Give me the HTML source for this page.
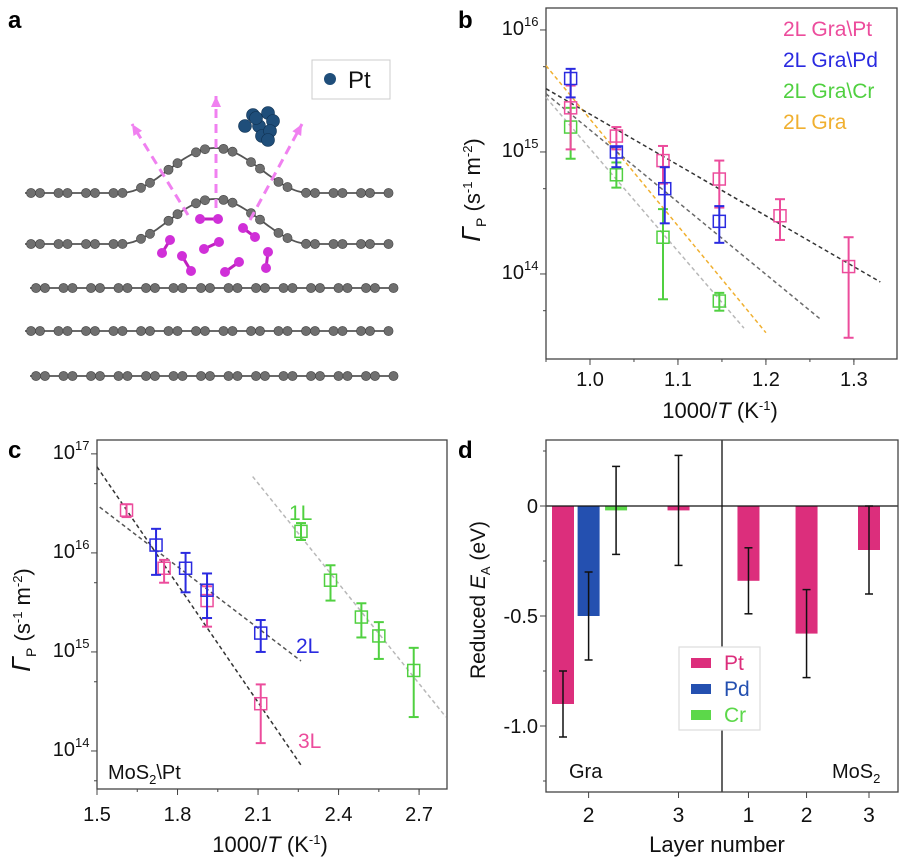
<!DOCTYPE html>
<html><head><meta charset="utf-8"><style>
body{margin:0;background:#fff;width:904px;height:860px;overflow:hidden;font-family:"Liberation Sans",Arial,sans-serif}
svg text{font-family:"Liberation Sans",Arial,sans-serif}
</style></head><body>
<svg id="fig" width="904" height="860" viewBox="0 0 904 860" xmlns="http://www.w3.org/2000/svg">
<text x="8" y="28" font-size="24" font-weight="bold">a</text>
<text x="458" y="28" font-size="24" font-weight="bold">b</text>
<text x="8" y="458" font-size="24" font-weight="bold">c</text>
<text x="458" y="458" font-size="24" font-weight="bold">d</text>
<g id="pa"></g>
<g id="pb"></g>
<g id="pc"></g>
<g id="pd"></g>
</svg>
<script>
// ---------- Panel b data ----------
const bPtX=[0.978,1.03,1.083,1.147,1.216,1.294];
const bPtY=[2.3e15,1.35e15,8.5e14,6e14,3e14,1.15e14];
const bPtLo=[1.05e15,1.05e15,5.5e14,3.5e14,1.9e14,3e13];
const bPtHi=[3.5e15,1.6e15,1.12e15,8.5e14,4.1e14,2e14];
const bPdX=[0.978,1.03,1.085,1.147];
const bPdY=[4e15,1.0e15,5e14,2.7e14];
const bPdLo=[2.8e15,7.5e14,2.6e14,1.8e14];
const bPdHi=[4.8e15,1.1e15,7.5e14,3.6e14];
const bCrX=[0.978,1.03,1.083,1.147];
const bCrY=[1.6e15,6.5e14,2e14,6e13];
const bCrLo=[8.8e14,5.1e14,6.2e13,5e13];
const bCrHi=[2.3e15,8.2e14,3.4e14,7e13];
const bFitPt=[[0.95,3.3e15],[1.33,8.6e13]];
const bFitPd=[[0.95,3.0e15],[1.263,4.2e13]];
const bFitGra=[[0.95,5.1e15],[1.2,3.3e13]];
const bFitCr=[[0.95,2.8e15],[1.175,3.6e13]];
const bXTicks=[1.0,1.1,1.2,1.3];
const bYTicks=[14,15,16];
// ---------- Panel c data ----------
const c3LX=[1.61,1.75,1.91,2.11];
const c3LY=[2.7e16,7e15,3.3e15,3e14];
const c3LLo=[2.3e16,5e15,1.8e15,1.2e14];
const c3LHi=[3.1e16,8.5e15,4.6e15,4.7e14];
const c2LX=[1.72,1.83,1.91,2.11];
const c2LY=[1.2e16,7e15,4.2e15,1.55e15];
const c2LLo=[6e15,4e15,2.2e15,1.0e15];
const c2LHi=[1.75e16,1.0e16,6.2e15,2.1e15];
const c1LX=[2.26,2.37,2.485,2.55,2.68];
const c1LY=[1.65e16,5.3e15,2.25e15,1.45e15,6.5e14];
const c1LLo=[1.35e16,3.3e15,1.4e15,8.5e14,2.2e14];
const c1LHi=[2.0e16,7.5e15,3.1e15,2.0e15,1.1e15];
const cFit3L=[[1.5,7.4e16],[2.26,7.2e13]];
const cFit2L=[[1.51,2.9e16],[2.26,8.1e14]];
const cFit1L=[[2.08,5.9e16],[2.8,2.2e14]];
const cXTicks=[1.5,1.8,2.1,2.4,2.7];
const cYTicks=[14,15,16,17];
// ---------- Panel d data ----------
const dCats=["Gra-2-Pt","Gra-2-Pd","Gra-2-Cr","Gra-3-Pt","MoS2-1-Pt","MoS2-2-Pt","MoS2-3-Pt"];
const dSlot=[1.7,2.11,2.55,3.55,4.67,5.6,6.6];
const dMetal=["Pt","Pd","Cr","Pt","Pt","Pt","Pt"];
const dVals=[-0.9,-0.5,-0.02,-0.02,-0.34,-0.58,-0.20];
const dErr=[0.15,0.2,0.2,0.25,0.15,0.2,0.2];
const dXTickLabels=["2","3","1","2","3"];
const dXTickSlots=[2.11,3.55,4.67,5.6,6.6];
const dYTicks=[0,-0.5,-1.0];
const dYTickLabels=["0","-0.5","-1.0"];

const NS="http://www.w3.org/2000/svg";
function el(parent,tag,attrs,text){const e=document.createElementNS(NS,tag);for(const k in attrs)e.setAttribute(k,attrs[k]);if(text!==undefined)e.textContent=text;parent.appendChild(e);return e;}

// ===== Panel a =====
(function(){
const g=document.getElementById('pa');
function bump(x,base){if(x<120||x>310)return base;return base-45*(1+Math.cos(Math.PI*(x-215)/95))/2;}
const layers=[[193,true,25,393],[244,true,25,393],[288,false,30,398],[331,false,25,393],[376,false,30,398]];
layers.forEach((L,i)=>{
  const [base,b,x0,x1]=L;
  let d="";
  for(let x=x0;x<=x1;x+=3){const y=b?bump(x,base):base;d+=(x===x0?"M":"L")+x+" "+y.toFixed(1);}
  const p=el(g,'path',{d:d,stroke:'#555',fill:'none','stroke-width':1.8});
  
  
  for(let x=x0+6;x<=x1-4;x+=27.5){
    [0,9].forEach(dx=>{const xx=x+dx;if(xx>x1)return;const y=b?bump(xx,base):base;
      const c=el(g,'circle',{cx:xx,cy:y,r:4.6,fill:'#6f6f6f',stroke:'#444','stroke-width':0.6});
      
      });
  }
});
const mag=[[200,219,218,219],[243,228,255,237],[170,240,162,253],[204,249,219,242],[182,256,191,271],[225,272,239,262],[268,252,266,268]];
mag.forEach(m=>{
  el(g,'line',{x1:m[0],y1:m[1],x2:m[2],y2:m[3],stroke:'#c020c0','stroke-width':3});
  [[m[0],m[1]],[m[2],m[3]]].forEach(p=>{const c=el(g,'circle',{cx:p[0],cy:p[1],r:5,fill:'#d030d8'});
    
    });
});
const arrows=[[188,215,132,124],[216,208,216,96],[250,220,302,124]];
arrows.forEach(a=>{
  const l=el(g,'line',{x1:a[0],y1:a[1],x2:a[2],y2:a[3],stroke:'#f080f0','stroke-width':3,'stroke-dasharray':'9 6'});
  
  
  const ang=Math.atan2(a[3]-a[1],a[2]-a[0]);const s=11;
  const p1=[a[2]-s*Math.cos(ang)+5*Math.sin(ang),a[3]-s*Math.sin(ang)-5*Math.cos(ang)];
  const p2=[a[2]-s*Math.cos(ang)-5*Math.sin(ang),a[3]-s*Math.sin(ang)+5*Math.cos(ang)];
  el(g,'polygon',{points:`${a[2]},${a[3]} ${p1} ${p2}`,fill:'#f080f0'});
});
const pt=[[245,126],[253,115],[268,113],[273,121],[259,126],[262,136],[270,131],[268,140],[256,118]];
pt.forEach(p=>{const c=el(g,'circle',{cx:p[0],cy:p[1],r:6.5,fill:'#1f4e7a',stroke:'#0f3050','stroke-width':0.6});
  
  });
const box=el(g,'rect',{x:312,y:60,width:78,height:39,fill:'#fff',stroke:'#ccc','stroke-width':1});


el(g,'circle',{cx:330,cy:79,r:6,fill:'#1f4e7a'});
const t=el(g,'text',{x:348,y:88,'font-size':24,fill:'#111'},'Pt');


})();

// ===== generic log chart =====
function logChart(g,o){
  const X=v=>o.L+(v-o.xmin)/(o.xmax-o.xmin)*(o.R-o.L);
  const Y=v=>o.B-(Math.log10(v)-o.ymin)/(o.ymax-o.ymin)*(o.B-o.T);
  const fr=el(g,'rect',{x:o.L,y:o.T,width:o.R-o.L,height:o.B-o.T,fill:'none',stroke:'#444','stroke-width':1.3});
  
  
  o.xt.forEach(v=>{el(g,'line',{x1:X(v),x2:X(v),y1:o.B,y2:o.B+6,stroke:'#444'});
    const t=el(g,'text',{x:X(v),y:o.tly,'font-size':20,'text-anchor':'middle',fill:'#111'},v.toFixed(1));
    
    });
  for(let v=o.xmin;v<=o.xmax+1e-9;v+=o.xminor){el(g,'line',{x1:X(v),x2:X(v),y1:o.B,y2:o.B+3,stroke:'#444'});}
  o.yt.forEach(e=>{const y=Y(Math.pow(10,e));el(g,'line',{x1:o.L-6,x2:o.L,y1:y,y2:y,stroke:'#444'});
    const t=el(g,'text',{x:o.L-22,y:y+5,'font-size':20,'text-anchor':'end',fill:'#111'},'10');
    
    
    el(g,'text',{x:o.L-22,y:y-4,'font-size':13,fill:'#111'},String(e));
    const y5=Y(5*Math.pow(10,e-1));if(y5<o.B&&y5>o.T)el(g,'line',{x1:o.L-3,x2:o.L,y1:y5,y2:y5,stroke:'#444'});});
  const y5b=Y(5*Math.pow(10,o.yt[o.yt.length-1]));if(y5b>o.T)el(g,'line',{x1:o.L-3,x2:o.L,y1:y5b,y2:y5b,stroke:'#444'});
  return {X,Y};
}
function fit(g,ax,f,col,name){const l=el(g,'line',{x1:ax.X(f[0][0]),y1:ax.Y(f[0][1]),x2:ax.X(f[1][0]),y2:ax.Y(f[1][1]),stroke:col,'stroke-width':1.5,'stroke-dasharray':'4 3'});
  
  }
function series(g,ax,xs,ys,lo,hi,col,name){xs.forEach((x,i)=>{
  const px=ax.X(x);
  el(g,'line',{x1:px,x2:px,y1:ax.Y(lo[i]),y2:ax.Y(hi[i]),stroke:col,'stroke-width':2});
  el(g,'line',{x1:px-5,x2:px+5,y1:ax.Y(lo[i]),y2:ax.Y(lo[i]),stroke:col,'stroke-width':2});
  el(g,'line',{x1:px-5,x2:px+5,y1:ax.Y(hi[i]),y2:ax.Y(hi[i]),stroke:col,'stroke-width':2});
  const r=el(g,'rect',{x:px-6,y:ax.Y(ys[i])-6,width:12,height:12,fill:'none',stroke:col,'stroke-width':1.5});
  
  });}
function ylabel(g,cx,cy){const t=el(g,'text',{transform:`translate(${cx},${cy}) rotate(-90)`,'text-anchor':'middle','font-size':22,fill:'#111'});
  
  
  t.innerHTML='<tspan font-style="italic" font-size="26">Γ</tspan><tspan font-size="14" dy="6">P</tspan><tspan dy="-6"> (s</tspan><tspan font-size="13" dy="-8">-1</tspan><tspan dy="8"> m</tspan><tspan font-size="13" dy="-8">-2</tspan><tspan dy="8">)</tspan>';}
function xlabel(g,cx,y){const t=el(g,'text',{x:cx,y:y,'text-anchor':'middle','font-size':22,fill:'#111'});
  
  
  t.innerHTML='1000/<tspan font-style="italic">T</tspan> (K<tspan font-size="13" dy="-8">-1</tspan><tspan dy="8">)</tspan>';}

// ===== Panel b =====
(function(){
const g=document.getElementById('pb');
const ax=logChart(g,{L:546,R:897,T:8,B:359,xmin:0.95,xmax:1.349,ymin:13.303,ymax:16.18,xt:bXTicks,xminor:0.05,yt:bYTicks,tly:386});
fit(g,ax,bFitCr,'#b8b8b8','fit-line-cr');
fit(g,ax,bFitGra,'#f0b030','fit-line-gra');
fit(g,ax,bFitPd,'#6a6a6a','fit-line-pd');
fit(g,ax,bFitPt,'#333','fit-line-pt');
series(g,ax,bCrX,bCrY,bCrLo,bCrHi,'#50d040','point-cr');
series(g,ax,bPtX,bPtY,bPtLo,bPtHi,'#ec4c9c','point-pt');
series(g,ax,bPdX,bPdY,bPdLo,bPdHi,'#2a2ae0','point-pd');
const leg=[['2L Gra\\Pt','#ec4c9c'],['2L Gra\\Pd','#2a2ae0'],['2L Gra\\Cr','#50d040'],['2L Gra','#f0b030']];
leg.forEach((l,i)=>{const t=el(g,'text',{x:783,y:36+i*31,'font-size':21,fill:l[1]},l[0]);
  
  });
ylabel(g,480,190);xlabel(g,720,418);
})();

// ===== Panel c =====
(function(){
const g=document.getElementById('pc');
const ax=logChart(g,{L:97,R:447,T:440,B:789,xmin:1.5,xmax:2.804,ymin:13.616,ymax:17.14,xt:cXTicks,xminor:0.15,yt:cYTicks,tly:821});
fit(g,ax,cFit1L,'#b8b8b8','fit-line-1l');
fit(g,ax,cFit2L,'#555','fit-line-2l');
fit(g,ax,cFit3L,'#333','fit-line-3l');
series(g,ax,c3LX,c3LY,c3LLo,c3LHi,'#ec4c9c','point-3l');
series(g,ax,c2LX,c2LY,c2LLo,c2LHi,'#2a2ae0','point-2l');
series(g,ax,c1LX,c1LY,c1LLo,c1LHi,'#50d040','point-1l');
[['1L',289,520,'#50d040'],['2L',296,653,'#2a2ae0'],['3L',298,748,'#ec4c9c']].forEach(l=>{
  const t=el(g,'text',{x:l[1],y:l[2],'font-size':21,fill:l[3]},l[0]);
  
  });
const m=el(g,'text',{x:108,y:779,'font-size':20,fill:'#111'});


m.innerHTML='MoS<tspan font-size="13" dy="5">2</tspan><tspan dy="-5">\\Pt</tspan>';
ylabel(g,30,620);xlabel(g,270,852);
})();

// ===== Panel d =====
(function(){
const g=document.getElementById('pd');
const L=546,R=898,T=440,B=792,ymin=-1.30,ymax=0.30;
const Y=v=>B-(v-ymin)/(ymax-ymin)*(B-T);
const X=s=>563+(s-1.7)*(869-563)/(6.6-1.7);
const cols={Pt:'#dc2e7c',Pd:'#2450b0',Cr:'#5cd84a'};
dVals.forEach((v,i)=>{const x=X(dSlot[i]);
  const r=el(g,'rect',{x:x-11,y:Math.min(Y(0),Y(v)),width:22,height:Math.abs(Y(v)-Y(0)),fill:cols[dMetal[i]]});
  
  });
el(g,'line',{x1:L,x2:R,y1:Y(0),y2:Y(0),stroke:'#111','stroke-width':1.3});
el(g,'line',{x1:722,x2:722,y1:T,y2:B,stroke:'#111','stroke-width':1.3});
dVals.forEach((v,i)=>{const x=X(dSlot[i]);const lo=Y(v-dErr[i]),hi=Y(v+dErr[i]);
  const e=el(g,'line',{x1:x,x2:x,y1:lo,y2:hi,stroke:'#111','stroke-width':1.5});
  
  
  el(g,'line',{x1:x-4,x2:x+4,y1:lo,y2:lo,stroke:'#111','stroke-width':1.5});
  el(g,'line',{x1:x-4,x2:x+4,y1:hi,y2:hi,stroke:'#111','stroke-width':1.5});});
const fr=el(g,'rect',{x:L,y:T,width:R-L,height:B-T,fill:'none',stroke:'#444','stroke-width':1.3});


dYTicks.forEach((v,i)=>{el(g,'line',{x1:L-6,x2:L,y1:Y(v),y2:Y(v),stroke:'#444'});
  const t=el(g,'text',{x:L-8,y:Y(v)+7,'font-size':20,'text-anchor':'end',fill:'#111'},dYTickLabels[i]);
  
  });
[0.25,-0.25,-0.75,-1.25].forEach(v=>el(g,'line',{x1:L-3,x2:L,y1:Y(v),y2:Y(v),stroke:'#444'}));
dXTickSlots.forEach((s,i)=>{el(g,'line',{x1:X(s),x2:X(s),y1:B,y2:B+6,stroke:'#444'});
  const t=el(g,'text',{x:X(s),y:822,'font-size':21,'text-anchor':'middle',fill:'#111'},dXTickLabels[i]);
  
  });
const lb=el(g,'rect',{x:679,y:647,width:81,height:83,fill:'#fff',stroke:'#ddd','stroke-width':1.2});


[['Pt',cols.Pt],['Pd',cols.Pd],['Cr',cols.Cr]].forEach((l,i)=>{
  el(g,'rect',{x:691,y:658+i*26,width:20,height:10,fill:l[1]});
  const t=el(g,'text',{x:724,y:670+i*26,'font-size':21,fill:l[1]},l[0]);
  
  });
const ga=el(g,'text',{x:569,y:778,'font-size':20,fill:'#111'},'Gra');


const mo=el(g,'text',{x:832,y:778,'font-size':20,fill:'#111'});


mo.innerHTML='MoS<tspan font-size="13" dy="5">2</tspan>';
const yl=el(g,'text',{transform:'translate(485,600) rotate(-90)','text-anchor':'middle','font-size':21,fill:'#111'});


yl.innerHTML='Reduced <tspan font-style="italic">E</tspan><tspan font-size="13" dy="5">A</tspan><tspan dy="-5"> (eV)</tspan>';
const xl=el(g,'text',{x:717,y:852,'text-anchor':'middle','font-size':22,fill:'#111'},'Layer number');


})();
</script>
</body></html>
